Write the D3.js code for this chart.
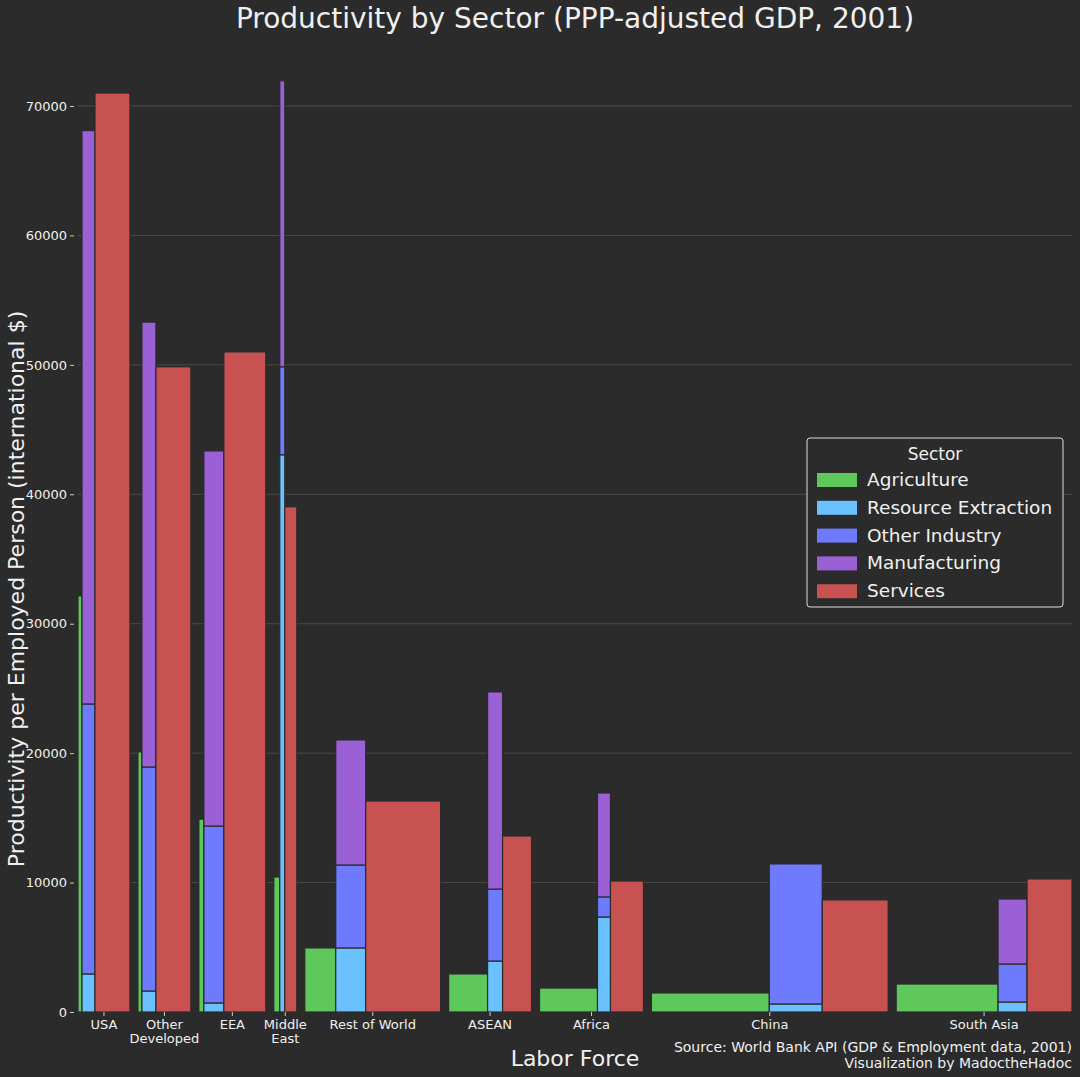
<!DOCTYPE html>
<html><head><meta charset="utf-8">
<script src="https://cdn.jsdelivr.net/npm/d3@7"></script>
<style>
body{margin:0;background:#2b2b2b;}
text{font-family:"DejaVu Sans",sans-serif;fill:#f0f0f0;}
</style></head>
<body><svg width="1080" height="1077"></svg>
<script>
// Regiões e dados (emprego em milhões, produtividade em $ internacionais)
const regions = ["USA", "Other\nDeveloped", "EEA", "Middle\nEast", "Rest of World", "ASEAN", "Africa", "China", "South Asia"];
const empAg   = [12, 12, 15, 18, 93, 117, 174, 354, 306];
const empInd  = [39, 42, 60, 15, 90, 45, 39, 159, 87];
const empServ = [105, 105, 126, 36, 225, 87, 99, 198, 135];
const prodAg  = [32150, 20100, 14900, 10430, 4950, 2940, 1850, 1470, 2160];
const topRes  = [2940, 1620, 700, 43050, 4950, 3940, 7340, 620, 770];
const topOth  = [23800, 18930, 14370, 49850, 11360, 9500, 8890, 11440, 3710];
const topMfg  = [68100, 53300, 43350, 71950, 21020, 24730, 16920, 11440, 8730];
const prodServ = [71000, 49850, 51000, 39030, 16300, 13600, 10120, 8660, 10280];
const yTicks = [0, 10000, 20000, 30000, 40000, 50000, 60000, 70000];
const sectors = ["Agriculture", "Resource Extraction", "Other Industry", "Manufacturing", "Services"];
const colors = ["#5fc85a", "#6bc0ff", "#6e7bff", "#9b5fd6", "#c85252"];
const gap = 24;

const svg = d3.select("svg");
const m = {l: 78, r: 1072, t: 60, b: 1012};

// posições acumuladas
let acc = 0;
const reg = regions.map((r, i) => {
    const o = {name: r, x0: acc};
    acc += empAg[i] + empInd[i] + empServ[i];
    o.x1 = acc;
    acc += gap;
    return o;
});
const total = acc - gap;

const x = d3.scaleLinear().domain([0, total]).range([m.l, m.r]);
const y = d3.scaleLinear().domain([0, 70000]).range([m.b, 106]);

// grade
svg.append("g").selectAll("line").data(yTicks.slice(1)).enter().append("line")
    .attr("x1", m.l).attr("x2", m.r)
    .attr("y1", d => y(d)).attr("y2", d => y(d))
    .attr("stroke", "#4a4a4a").attr("stroke-width", 1);

const rects = [];
reg.forEach((r, i) => {
    let a = r.x0;
    rects.push({x0: a, x1: a + empAg[i], y0: 0, y1: prodAg[i], c: 0});
    a += empAg[i];
    const b = a + empInd[i];
    rects.push({x0: a, x1: b, y0: 0, y1: topRes[i], c: 1});
    rects.push({x0: a, x1: b, y0: topRes[i], y1: topOth[i], c: 2});
    if (topMfg[i] > topOth[i]) rects.push({x0: a, x1: b, y0: topOth[i], y1: topMfg[i], c: 3});
    rects.push({x0: b, x1: b + empServ[i], y0: 0, y1: prodServ[i], c: 4});
});

svg.append("g").selectAll("rect").data(rects).enter().append("rect")
    .attr("x", d => x(d.x0)).attr("width", d => x(d.x1) - x(d.x0))
    .attr("y", d => y(d.y1)).attr("height", d => y(d.y0) - y(d.y1))
    .attr("fill", d => colors[d.c])
    .attr("stroke", "#2b2b2b").attr("stroke-width", 1.2);

// eixo y
const yAxis = svg.append("g").attr("transform", `translate(${m.l - 4},0)`)
    .call(d3.axisLeft(y).tickValues(yTicks).tickFormat(d3.format("d")).tickSize(4));
yAxis.select(".domain").remove();
yAxis.selectAll("line").attr("stroke", "#ccc");
yAxis.selectAll("text").attr("font-size", 13).style("fill", "#f0f0f0");

// eixo x
const xg = svg.append("g");
reg.forEach(r => {
    const cx = x((r.x0 + r.x1) / 2);
    xg.append("line").attr("x1", cx).attr("x2", cx).attr("y1", m.b).attr("y2", m.b + 4).attr("stroke", "#ccc");
    r.name.split("\n").forEach((s, k) => {
        xg.append("text").attr("x", cx).attr("y", m.b + 17 + k * 14)
            .attr("text-anchor", "middle").attr("font-size", 13).text(s);
    });
});

// títulos
svg.append("text").attr("x", 575).attr("y", 28).attr("text-anchor", "middle")
    .attr("font-size", 28).text("Productivity by Sector (PPP-adjusted GDP, 2001)");
svg.append("text").attr("x", 575).attr("y", 1066).attr("text-anchor", "middle")
    .attr("font-size", 22).text("Labor Force");
svg.append("text").attr("transform", `translate(24,${(m.b + 106) / 2 + 30}) rotate(-90)`)
    .attr("text-anchor", "middle").attr("font-size", 22)
    .text("Productivity per Employed Person (international $)");
svg.append("text").attr("x", 1072).attr("y", 1052).attr("text-anchor", "end")
    .attr("font-size", 14).text("Source: World Bank API (GDP & Employment data, 2001)");
svg.append("text").attr("x", 1072).attr("y", 1068).attr("text-anchor", "end")
    .attr("font-size", 14).text("Visualization by MadoctheHadoc");

// legenda
const lg = svg.append("g").attr("transform", "translate(807,438)");
lg.append("rect").attr("width", 256).attr("height", 169).attr("rx", 3)
    .attr("fill", "#2b2b2b").attr("stroke", "#ddd").attr("stroke-width", 1);
lg.append("text").attr("x", 128).attr("y", 22).attr("text-anchor", "middle")
    .attr("font-size", 17).text("Sector");
sectors.forEach((s, i) => {
    lg.append("rect").attr("x", 10).attr("y", 35 + i * 27.8).attr("width", 40).attr("height", 14)
        .attr("fill", colors[i]);
    lg.append("text").attr("x", 60).attr("y", 48 + i * 27.8).attr("font-size", 18.5).text(s);
});
</script></body></html>
